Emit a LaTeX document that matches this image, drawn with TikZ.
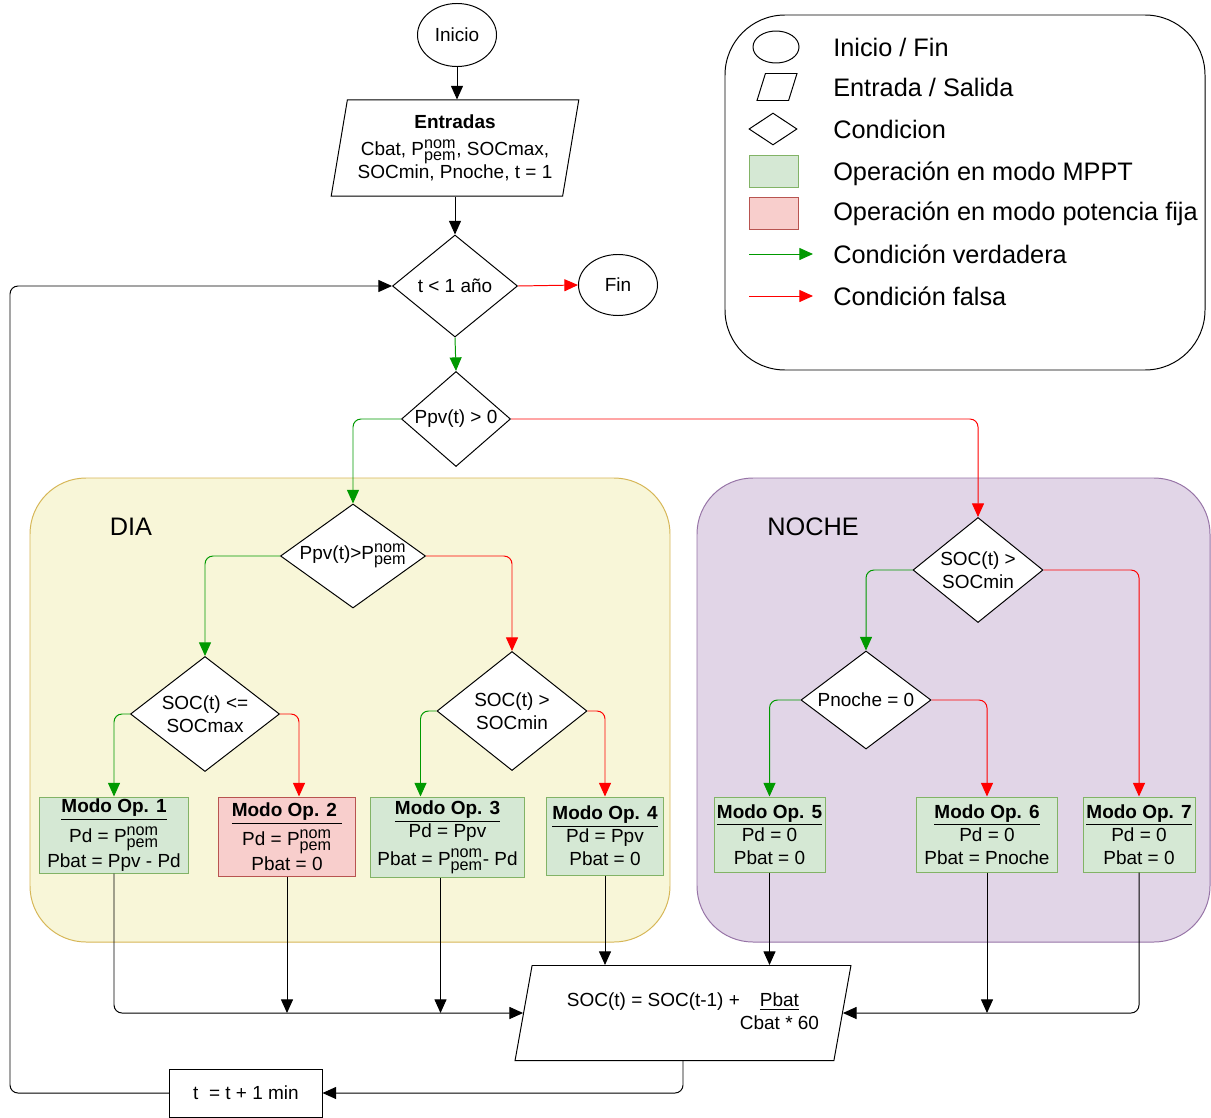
\documentclass[tikz,border=0pt]{standalone}
\usepackage{amsmath}
\usepackage{fontspec}
\setmainfont{Liberation Sans}
\usepackage{tikz}
\usetikzlibrary{arrows.meta,positioning,shapes.geometric,calc}
\definecolor{verdefondo}{HTML}{D5E8D4}
\definecolor{verdeborde}{HTML}{82B366}
\definecolor{rojofondo}{HTML}{F8CECC}
\definecolor{rojoborde}{HTML}{B85450}
\definecolor{diafondo}{HTML}{F8F6D8}
\definecolor{diaborde}{HTML}{D6B656}
\definecolor{nochefondo}{HTML}{E1D5E7}
\definecolor{nocheborde}{HTML}{9673A6}
\definecolor{verdeflecha}{HTML}{009900}
\definecolor{rojoflecha}{HTML}{FF0000}
\DeclareMathSizes{13.5}{13.5}{11.5}{9}
\newcommand{\pnp}{P$^{\textnormal{nom}}_{\textnormal{pem}}$}
\newcommand{\modo}[1]{\underline{\textbf{Modo Op. #1}}}

\begin{document}
\begin{tikzpicture}[x=0.025cm, y=-0.025cm,
  every node/.style={font=\fontsize{13.5}{16.5}\selectfont},
  linea/.style={line width=0.7pt},
  flecha/.style={linea, -{Triangle[length=0.34cm,width=0.3cm]}, rounded corners=0.2cm},
  verd/.style={flecha, verdeflecha},
  fals/.style={flecha, rojoflecha},
  term/.style={ellipse, draw, linea, fill=white, inner sep=0pt},
  entsal/.style={trapezium, draw, linea, fill=white, trapezium stretches=true, inner sep=1pt, align=center},
  cond/.style={diamond, draw, linea, fill=white, inner sep=0pt, aspect=1.3, align=center},
  mppt/.style={rectangle, draw=verdeborde, fill=verdefondo, linea, inner sep=1pt, align=center},
  pfija/.style={rectangle, draw=rojoborde, fill=rojofondo, linea, inner sep=1pt, align=center},
  zona/.style={linea, rounded corners=1.4cm},
  grande/.style={font=\fontsize{18}{21}\selectfont},
  ley/.style={grande, anchor=west, inner sep=0pt}]

\useasboundingbox (0,0) rectangle (1211,1118);

% ================= zonas dia / noche =================
\draw[zona, draw=diaborde, fill=diafondo] (30,478) rectangle (670,942);
\draw[zona, draw=nocheborde, fill=nochefondo] (697,478) rectangle (1210,942);
\node[grande] (dia) at (131,527) {DIA};
\node[grande] (noche) at (813,527) {NOCHE};

% ================= leyenda =================
\draw[linea, rounded corners=1.5cm] (725,15) rectangle (1205,370);
\node[term, minimum width=1.15cm, minimum height=0.8cm] (ley1) at (776,47) {};
\node[entsal, trapezium left angle=70, trapezium right angle=110,
  minimum width=1cm, minimum height=0.675cm] (ley2) at (777,87) {};
\node[cond, minimum width=1.2cm, minimum height=0.8cm] (ley3) at (773,129) {};
\node[mppt, minimum width=1.225cm, minimum height=0.8cm] (ley4) at (773.5,171) {};
\node[pfija, minimum width=1.225cm, minimum height=0.8cm] (ley5) at (773.5,213) {};
\coordinate (lv0) at (749,254);
\coordinate (lv1) at (813,254);
\coordinate (lf0) at (749,296);
\coordinate (lf1) at (813,296);
\draw[verd] (lv0) -- (lv1);
\draw[fals] (lf0) -- (lf1);
\node[ley] (tl1) at (833,47) {Inicio / Fin};
\node[ley] (tl2) at (833,87) {Entrada / Salida};
\node[ley] (tl3) at (833,129) {Condicion};
\node[ley] (tl4) at (833,174) {Operación en modo MPPT};
\node[ley] (tl5) at (833,214) {Operación en modo potencia fija};
\node[ley] (tl6) at (833,254) {Condición verdadera};
\node[ley] (tl7) at (833,296) {Condición falsa};

% ================= inicio y entradas =================
\node[term, minimum width=1.975cm, minimum height=1.575cm] (ini) at (457,35) {Inicio};
\node[entsal, trapezium left angle=78, trapezium right angle=102,
  minimum width=6.2cm, minimum height=2.4cm] (ent) at (455,148)
  {\textbf{Entradas}\\[3pt]Cbat, \pnp, SOCmax,\\SOCmin, Pnoche, t = 1};
\node[cond, minimum width=3.125cm, minimum height=2.55cm] (c1) at (455,286) {t < 1 año};
\node[term, minimum width=1.975cm, minimum height=1.525cm] (fin) at (618,285) {Fin};
\node[cond, minimum width=2.725cm, minimum height=2.375cm] (c2) at (456,419) {Ppv(t) > 0};

% ================= rama dia =================
\node[cond, minimum width=3.625cm, minimum height=2.6cm, inner xsep=-6pt] (c3) at (353,556) {Ppv(t)>\pnp};
\node[cond, minimum width=3.725cm, minimum height=2.875cm] (c4) at (205,714) {SOC(t) <=\\SOCmax};
\node[cond, minimum width=3.75cm, minimum height=2.975cm] (c5) at (512,711) {SOC(t) >\\SOCmin};
\node[mppt, minimum width=3.7cm, minimum height=1.9cm] (m1) at (114,835)
  {\modo{1}\\[3pt]Pd = \pnp\\[1pt]Pbat = Ppv - Pd};
\node[pfija, minimum width=3.4cm, minimum height=1.975cm] (m2) at (287,836.5)
  {\modo{2 }\\[3pt]Pd = \pnp\\[1pt]Pbat = 0};
\node[mppt, minimum width=3.825cm, minimum height=2cm] (m3) at (447.5,837)
  {\modo{3}\\Pd = Ppv\\[3pt]Pbat = \pnp- Pd};
\node[mppt, minimum width=2.9cm, minimum height=1.95cm] (m4) at (605,836)
  {\modo{4}\\Pd = Ppv\\Pbat = 0};

% ================= rama noche =================
\node[cond, minimum width=3.25cm, minimum height=2.625cm] (c6) at (978,570) {SOC(t) >\\SOCmin};
\node[cond, minimum width=3.25cm, minimum height=2.45cm] (c7) at (866,700) {Pnoche = 0};
\node[mppt, minimum width=2.775cm, minimum height=1.875cm] (m5) at (769.5,834.5)
  {\modo{5}\\Pd = 0\\Pbat = 0};
\node[mppt, minimum width=3.5cm, minimum height=1.875cm] (m6) at (987,834.5)
  {\modo{6}\\Pd = 0\\Pbat = Pnoche};
\node[mppt, minimum width=2.8cm, minimum height=1.875cm] (m7) at (1139,834.5)
  {\modo{7}\\Pd = 0\\Pbat = 0};

% ================= actualizacion =================
\node[entsal, trapezium left angle=72.5, trapezium right angle=107.5,
  minimum width=8.4cm, minimum height=2.375cm] (soc) at (683,1013)
  {\hspace*{0.5cm}SOC(t) = SOC(t-1) +\begin{tabular}[t]{@{}c@{}}\underline{Pbat}\\Cbat * 60\end{tabular}};
\node[rectangle, draw, linea, minimum width=3.8cm, minimum height=1.2cm] (tbox) at (246,1093) {t\ \ = t + 1 min};

% ================= conectores =================
\draw[flecha] (ini.south) -- (ini.south |- ent.north);
\draw[flecha] (ent.center |- ent.south) -- (c1.north);
\draw[fals] (c1.east) -- (fin.west);
\draw[verd] (c1.south) -- (c2.north);
\draw[verd] (c2.west) -| (c3.north);
\draw[fals] (c2.east) -| (c6.north);
\draw[verd] (c3.west) -| (c4.north);
\draw[fals] (c3.east) -| (c5.north);
\draw[verd] (c4.west) -| (m1.north);
\draw[fals] (c4.east) -| ($(m2.north)+(12,0)$);
\draw[verd] (c5.west) -| ($(m3.north)+(-27,0)$);
\draw[fals] (c5.east) -| (m4.north);
\draw[verd] (c6.west) -| (c7.north);
\draw[fals] (c6.east) -| (m7.north);
\draw[verd] (c7.west) -| (m5.north);
\draw[fals] (c7.east) -| (m6.north);

\draw[flecha] (m1.south) |- (soc.west);
\draw[flecha] (m2.south) -- (m2.south |- soc.west);
\draw[flecha] ($(m3.south)+(-7,0)$) -- ($(m3.south |- soc.west)+(-7,0)$);
\draw[flecha] (m4.south) -- (m4.south |- soc.north);
\draw[flecha] (m5.south) -- (m5.south |- soc.north);
\draw[flecha] (m6.south) -- (m6.south |- soc.west);
\draw[flecha] (m7.south) |- (soc.east);
\draw[flecha] (soc.center |- soc.south) |- (tbox.east);
\draw[flecha] (tbox.west) -| (10,286) -- (c1.west);

\end{tikzpicture}
\end{document}
